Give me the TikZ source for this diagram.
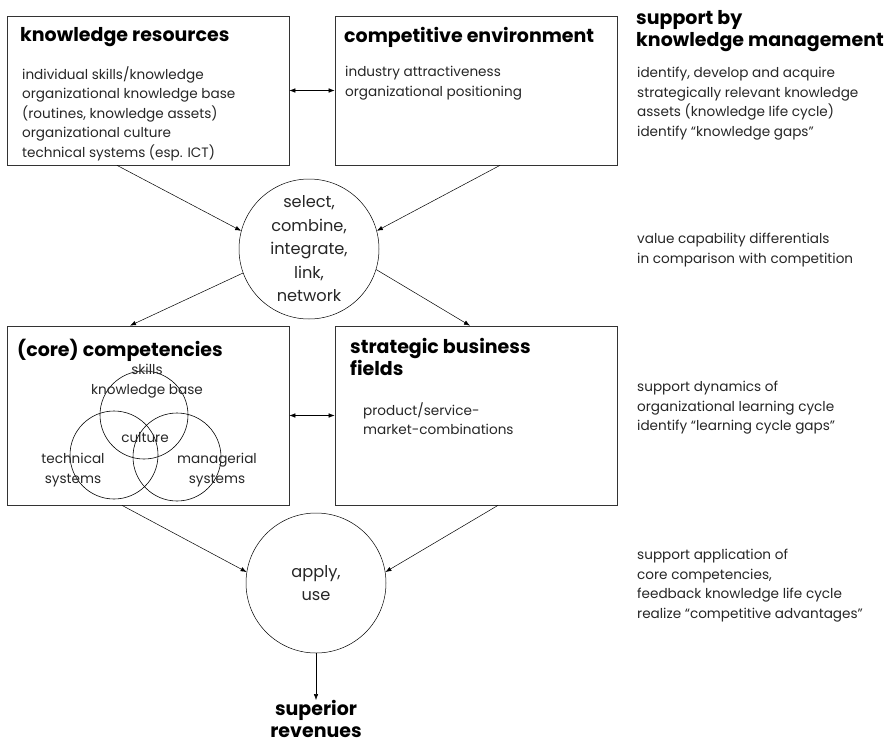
\documentclass[tikz,border=0pt]{standalone}
\usepackage{fontspec}
\setmainfont{Poppins}
\usetikzlibrary{arrows.meta}

\begin{document}
\begin{tikzpicture}[x=1pt, y=-1pt, >={Latex[length=6pt,width=4.5pt]},
  box/.style={draw=black!80, line width=0.7pt, minimum width=282pt, inner sep=0pt},
  disc/.style={draw, circle, line width=0.5pt, minimum size=140pt, inner sep=0pt},
  ring/.style={draw, circle, line width=0.6pt, minimum size=88pt, inner sep=0pt},
  title/.style={font=\bfseries\fontsize{19}{22.5}\selectfont, align=left, anchor=north west, inner sep=0pt},
  body/.style={font=\fontsize{13.6}{19.5}\selectfont, align=left, anchor=north west, inner sep=0pt, text=black!85},
  verb/.style={font=\fontsize{16.2}{23.5}\selectfont, align=center, text=black!85},
  flow/.style={->, line width=0.5pt},
]
\useasboundingbox (0,0) rectangle (895,745);

% the four boxes
\node[box, minimum height=149pt] (res) at (148,90.5) {};
\node[box, minimum height=149pt] (env) at (476,90.5) {};
\node[box, minimum height=179pt] (comp) at (148,415.5) {};
\node[box, minimum height=179pt] (fields) at (476,415.5) {};

% box contents
\node[title] (resT) at (20,27) {knowledge resources};
\node[body] (resB) at (22,66) {individual skills/knowledge\\organizational knowledge base\\(routines, knowledge assets)\\organizational culture\\technical systems (esp. ICT)};
\node[title] (envT) at (344,27) {competitive environment};
\node[body] (envB) at (345,66) {industry attractiveness\\organizational positioning};
\node[title] (compT) at (17,339) {(core) competencies};
\node[title] (fieldsT) at (350,338) {strategic business\\fields};
\node[body] (fieldsB) at (363,402) {product/service-\\market-combinations};

% three overlapping circles
\node[ring] (know) at (144,415) {};
\node[ring] (tech) at (114,455) {};
\node[ring] (mgmt) at (177,457) {};
\node[body, anchor=center, align=center] (knowL) at (147,381) {skills\\knowledge base};
\node[body, anchor=center] (cultL) at (145,438) {culture};
\node[body, anchor=center, align=center] (techL) at (73,470) {technical\\systems};
\node[body, anchor=center, align=center] (mgmtL) at (217,470) {managerial\\systems};

% the two process circles
\node[disc, verb] (select) at (309,249) {select,\\combine,\\integrate,\\link,\\network};
\node[disc, verb] (apply) at (316,583) {apply,\\use};
\node[title, align=center, anchor=north] (revenue) at (316,700) {superior\\revenues};

% knowledge management column
\node[title] (kmT) at (636,10) {support by\\knowledge management};
\node[body] (km1) at (637,67) {identify, develop and acquire\\strategically relevant knowledge\\assets (knowledge life cycle)\\identify “knowledge gaps”};
\node[body] (km2) at (637,233) {value capability differentials\\in comparison with competition};
\node[body] (km3) at (637,381) {support dynamics of\\organizational learning cycle\\identify “learning cycle gaps”};
\node[body] (km4) at (637,549) {support application of\\core competencies,\\feedback knowledge life cycle\\realize “competitive advantages”};

% connectors
\draw[<->, line width=0.5pt] (res.east) -- (env.west);
\draw[<->, line width=0.5pt] (comp.east) -- (fields.west);
\draw[flow] ([xshift=-31pt]res.south) -- (select.165);
\draw[flow] ([xshift=24pt]env.south) -- (select.15);
\draw[flow] (select.200) -- ([xshift=-18pt]comp.north);
\draw[flow] (select.343) -- ([xshift=-6pt]fields.north);
\draw[flow] ([xshift=-26pt]comp.south) -- (apply.171);
\draw[flow] ([xshift=22pt]fields.south) -- (apply.9);
\draw[flow] (apply.south) -- (revenue.north);

\end{tikzpicture}
\end{document}
